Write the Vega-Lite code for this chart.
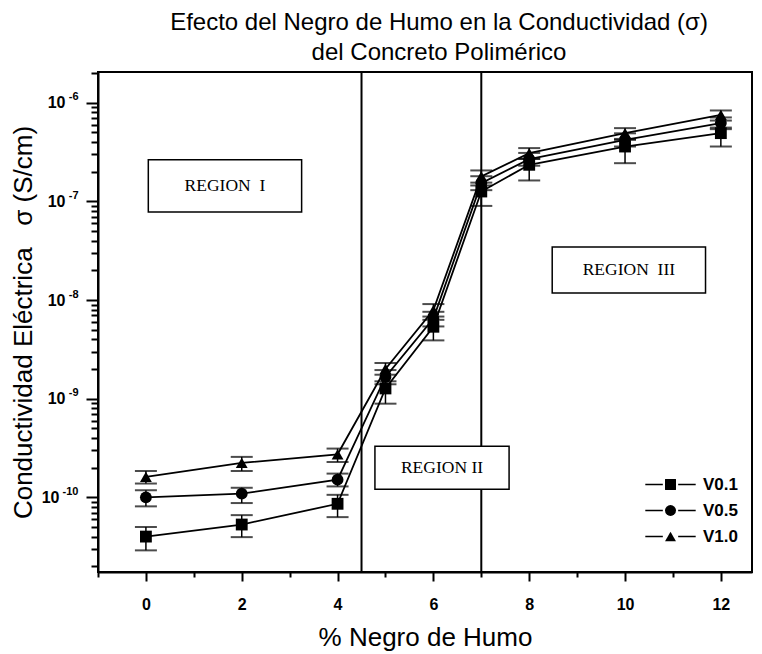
{
  "$schema": "https://vega.github.io/schema/vega-lite/v6.json",
  "autosize": "none",
  "width": 654,
  "height": 500,
  "padding": {"left": 98, "top": 72, "right": 10, "bottom": 82},
  "background": "white",
  "title": {
    "text": ["Efecto del Negro de Humo en la Conductividad (σ)", "del Concreto Polimérico"],
    "font": "Liberation Sans",
    "fontSize": 24,
    "fontWeight": "normal",
    "color": "black",
    "lineHeight": 30,
    "offset": 6,
    "dx": 14
  },
  "config": {
    "view": {"stroke": "black", "strokeWidth": 2},
    "axis": {
      "grid": false,
      "domainColor": "black",
      "domainWidth": 2,
      "tickColor": "black",
      "tickWidth": 2,
      "labelColor": "black",
      "titleColor": "black",
      "labelFont": "Liberation Sans",
      "labelFontWeight": "bold",
      "labelFontSize": 16,
      "titleFont": "Liberation Sans",
      "titleFontWeight": "normal",
      "titleFontSize": 26
    }
  },
  "datasets": {
    "pts": [
      {"serie": "V1.0", "x": 0, "y": 1.61e-10, "lo": 1.38e-10, "hi": 1.85e-10},
      {"serie": "V1.0", "x": 2, "y": 2.23e-10, "lo": 1.85e-10, "hi": 2.57e-10},
      {"serie": "V1.0", "x": 4, "y": 2.73e-10, "lo": 2.28e-10, "hi": 3.12e-10},
      {"serie": "V1.0", "x": 5, "y": 2.0e-9, "lo": 1.75e-9, "hi": 2.3e-9},
      {"serie": "V1.0", "x": 6, "y": 7.9e-9, "lo": 6.8e-9, "hi": 9.1e-9},
      {"serie": "V1.0", "x": 7, "y": 1.79e-7, "lo": 1.55e-7, "hi": 2.06e-7},
      {"serie": "V1.0", "x": 8, "y": 3.08e-7, "lo": 2.7e-7, "hi": 3.47e-7},
      {"serie": "V1.0", "x": 10, "y": 4.92e-7, "lo": 4.3e-7, "hi": 5.53e-7},
      {"serie": "V1.0", "x": 12, "y": 7.55e-7, "lo": 6.6e-7, "hi": 8.35e-7},
      {"serie": "V0.5", "x": 0, "y": 1.0e-10, "lo": 8.1e-11, "hi": 1.18e-10},
      {"serie": "V0.5", "x": 2, "y": 1.09e-10, "lo": 8.75e-11, "hi": 1.25e-10},
      {"serie": "V0.5", "x": 4, "y": 1.51e-10, "lo": 1.29e-10, "hi": 1.74e-10},
      {"serie": "V0.5", "x": 5, "y": 1.66e-9, "lo": 1.4e-9, "hi": 1.95e-9},
      {"serie": "V0.5", "x": 6, "y": 6.5e-9, "lo": 5.4e-9, "hi": 7.6e-9},
      {"serie": "V0.5", "x": 7, "y": 1.53e-7, "lo": 1.3e-7, "hi": 1.8e-7},
      {"serie": "V0.5", "x": 8, "y": 2.68e-7, "lo": 2.3e-7, "hi": 3.1e-7},
      {"serie": "V0.5", "x": 10, "y": 4.21e-7, "lo": 3.6e-7, "hi": 4.9e-7},
      {"serie": "V0.5", "x": 12, "y": 6.22e-7, "lo": 5.4e-7, "hi": 7.1e-7},
      {"serie": "V0.1", "x": 0, "y": 4.0e-11, "lo": 2.9e-11, "hi": 5.0e-11},
      {"serie": "V0.1", "x": 2, "y": 5.3e-11, "lo": 3.95e-11, "hi": 6.6e-11},
      {"serie": "V0.1", "x": 4, "y": 8.6e-11, "lo": 6.3e-11, "hi": 1.06e-10},
      {"serie": "V0.1", "x": 5, "y": 1.27e-9, "lo": 8.9e-10, "hi": 1.5e-9},
      {"serie": "V0.1", "x": 6, "y": 5.36e-9, "lo": 3.9e-9, "hi": 6.3e-9},
      {"serie": "V0.1", "x": 7, "y": 1.26e-7, "lo": 9.0e-8, "hi": 1.45e-7},
      {"serie": "V0.1", "x": 8, "y": 2.35e-7, "lo": 1.63e-7, "hi": 2.7e-7},
      {"serie": "V0.1", "x": 10, "y": 3.6e-7, "lo": 2.44e-7, "hi": 4.2e-7},
      {"serie": "V0.1", "x": 12, "y": 4.92e-7, "lo": 3.6e-7, "hi": 5.6e-7}
    ],
    "lines": [{"x": 4.5}, {"x": 7}],
    "boxes": [
      {"label": "REGION\u00a0\u00a0I", "x1": 0.05, "x2": 3.25, "y1": 7.8e-8, "y2": 2.64e-7, "tx": 1.65, "ty": 1.44e-7},
      {"label": "REGION\u00a0II", "x1": 4.78, "x2": 7.58, "y1": 1.21e-10, "y2": 3.3e-10, "tx": 6.18, "ty": 1.99e-10},
      {"label": "REGION\u00a0\u00a0III", "x1": 8.48, "x2": 11.68, "y1": 1.18e-8, "y2": 3.45e-8, "tx": 10.08, "ty": 2.02e-8}
    ]
  },
  "layer": [
    {
      "encoding": {
        "x": {
          "field": "x",
          "type": "quantitative",
          "scale": {"domain": [-1, 12.65], "nice": false, "zero": false},
          "axis": {
            "title": "% Negro de Humo",
            "values": [-1, 0, 1, 2, 3, 4, 5, 6, 7, 8, 9, 10, 11, 12],
            "labelExpr": "datum.value >= 0 && datum.value % 2 == 0 ? datum.value : ''",
            "tickSize": {"condition": {"test": "datum.value % 2 == 0", "value": 9}, "value": 5},
            "labelPadding": 15,
            "titlePadding": 12,
            "labelFlush": false
          }
        },
        "y": {
          "field": "y",
          "type": "quantitative",
          "scale": {"type": "log", "domain": [1.75e-11, 2.05e-6], "nice": false},
          "axis": {
            "title": "Conductividad Eléctrica\u00a0\u00a0\u00a0σ (S/cm)",
            "values": [2e-11, 3e-11, 4e-11, 5e-11, 6e-11, 7e-11, 8e-11, 9e-11, 1e-10, 2e-10, 3e-10, 4e-10, 5e-10, 6e-10, 7e-10, 8e-10, 9e-10, 1e-9, 2e-9, 3e-9, 4e-9, 5e-9, 6e-9, 7e-9, 8e-9, 9e-9, 1e-8, 2e-8, 3e-8, 4e-8, 5e-8, 6e-8, 7e-8, 8e-8, 9e-8, 1e-7, 2e-7, 3e-7, 4e-7, 5e-7, 6e-7, 7e-7, 8e-7, 9e-7, 1e-6, 2e-6],
            "labelExpr": "abs(log(datum.value)/LN10 - round(log(datum.value)/LN10)) < 0.001 && datum.value > 5e-11 ? '10' : ''",
            "tickSize": {"condition": {"test": "abs(log(datum.value)/LN10 - round(log(datum.value)/LN10)) < 0.001", "value": 12}, "value": 7},
            "labelPadding": {"condition": {"test": "datum.value < 5e-10", "value": 27}, "value": 21},
            "titlePadding": 5,
            "labelFlush": false
          }
        }
      },
      "layer": [
        {
          "data": {"name": "lines"},
          "mark": {"type": "rule", "color": "black", "strokeWidth": 2},
          "encoding": {"x": {"field": "x", "type": "quantitative"}, "y": null}
        },
        {
          "data": {"name": "boxes"},
          "mark": {"type": "rect", "fill": "white", "stroke": "black", "strokeWidth": 1.5},
          "encoding": {
            "x": {"field": "x1", "type": "quantitative"},
            "x2": {"field": "x2"},
            "y": {"field": "y1", "type": "quantitative"},
            "y2": {"field": "y2"}
          }
        },
        {
          "data": {"name": "boxes"},
          "mark": {"type": "text", "font": "Liberation Serif", "fontSize": 17.5, "color": "black", "align": "center", "baseline": "middle"},
          "encoding": {
            "x": {"field": "tx", "type": "quantitative"},
            "y": {"field": "ty", "type": "quantitative"},
            "text": {"field": "label"}
          }
        },
        {
          "data": {"name": "pts"},
          "mark": {"type": "line", "color": "black", "strokeWidth": 1.8},
          "encoding": {"detail": {"field": "serie"}}
        },
        {
          "data": {"name": "pts"},
          "transform": [{"filter": "false"}],
          "mark": {"type": "line", "strokeWidth": 1.5},
          "encoding": {
            "color": {
              "field": "serie",
              "type": "nominal",
              "scale": {"domain": ["a", "b", "c"], "range": ["black", "black", "black"]},
              "legend": {
                "title": null,
                "orient": "none",
                "legendX": 564,
                "legendY": 404,
                "padding": 0,
                "symbolType": "M-4.6,0H-1.4M1.4,0H4.6",
                "symbolSize": 120,
                "symbolStrokeColor": "black",
                "symbolStrokeWidth": 1.5,
                "labelOffset": 24,
                "rowPadding": 8,
                "labelFont": "Liberation Sans",
                "labelFontSize": 17,
                "labelFontWeight": "bold",
                "labelExpr": "''",
                "labelOpacity": 0
              }
            }
          }
        },
        {
          "data": {"name": "pts"},
          "mark": {"type": "rule", "color": "black", "strokeWidth": 1.5},
          "encoding": {"y": {"field": "lo", "type": "quantitative"}, "y2": {"field": "hi"}}
        },
        {
          "data": {"name": "pts"},
          "mark": {"type": "tick", "orient": "horizontal", "color": "black", "size": 22, "thickness": 2},
          "encoding": {"y": {"field": "lo", "type": "quantitative"}}
        },
        {
          "data": {"name": "pts"},
          "mark": {"type": "tick", "orient": "horizontal", "color": "black", "size": 22, "thickness": 2},
          "encoding": {"y": {"field": "hi", "type": "quantitative"}}
        },
        {
          "data": {"name": "pts"},
          "mark": {"type": "point", "filled": true, "color": "black", "opacity": 1, "size": 140},
          "encoding": {
            "shape": {
              "field": "serie",
              "type": "nominal",
              "scale": {"domain": ["V0.1", "V0.5", "V1.0"], "range": ["square", "circle", "triangle-up"]},
              "legend": {
                "title": null,
                "orient": "none",
                "legendX": 564,
                "legendY": 404,
                "padding": 0,
                "symbolSize": 120,
                "symbolFillColor": "black",
                "symbolStrokeColor": "black",
                "labelOffset": 24,
                "rowPadding": 8,
                "labelFont": "Liberation Sans",
                "labelFontSize": 17,
                "labelFontWeight": "bold",
                "labelColor": "black"
              }
            }
          }
        }
      ]
    },
    {
      "data": {"name": "pts"},
      "transform": [{"filter": "false"}],
      "mark": {"type": "point", "opacity": 0},
      "encoding": {
        "y": {
          "field": "y",
          "type": "quantitative",
          "axis": {
            "orient": "left",
            "title": null,
            "values": [1e-10, 1e-9, 1e-8, 1e-7, 1e-6],
            "labelExpr": "'-' + format(-round(log(datum.value)/LN10), 'd')",
            "ticks": false,
            "tickSize": 0,
            "domain": false,
            "labelPadding": 20,
            "labelOffset": -6,
            "labelFontSize": 11,
            "labelFlush": false
          }
        }
      }
    }
  ],
  "resolve": {"axis": {"y": "independent"}}
}
